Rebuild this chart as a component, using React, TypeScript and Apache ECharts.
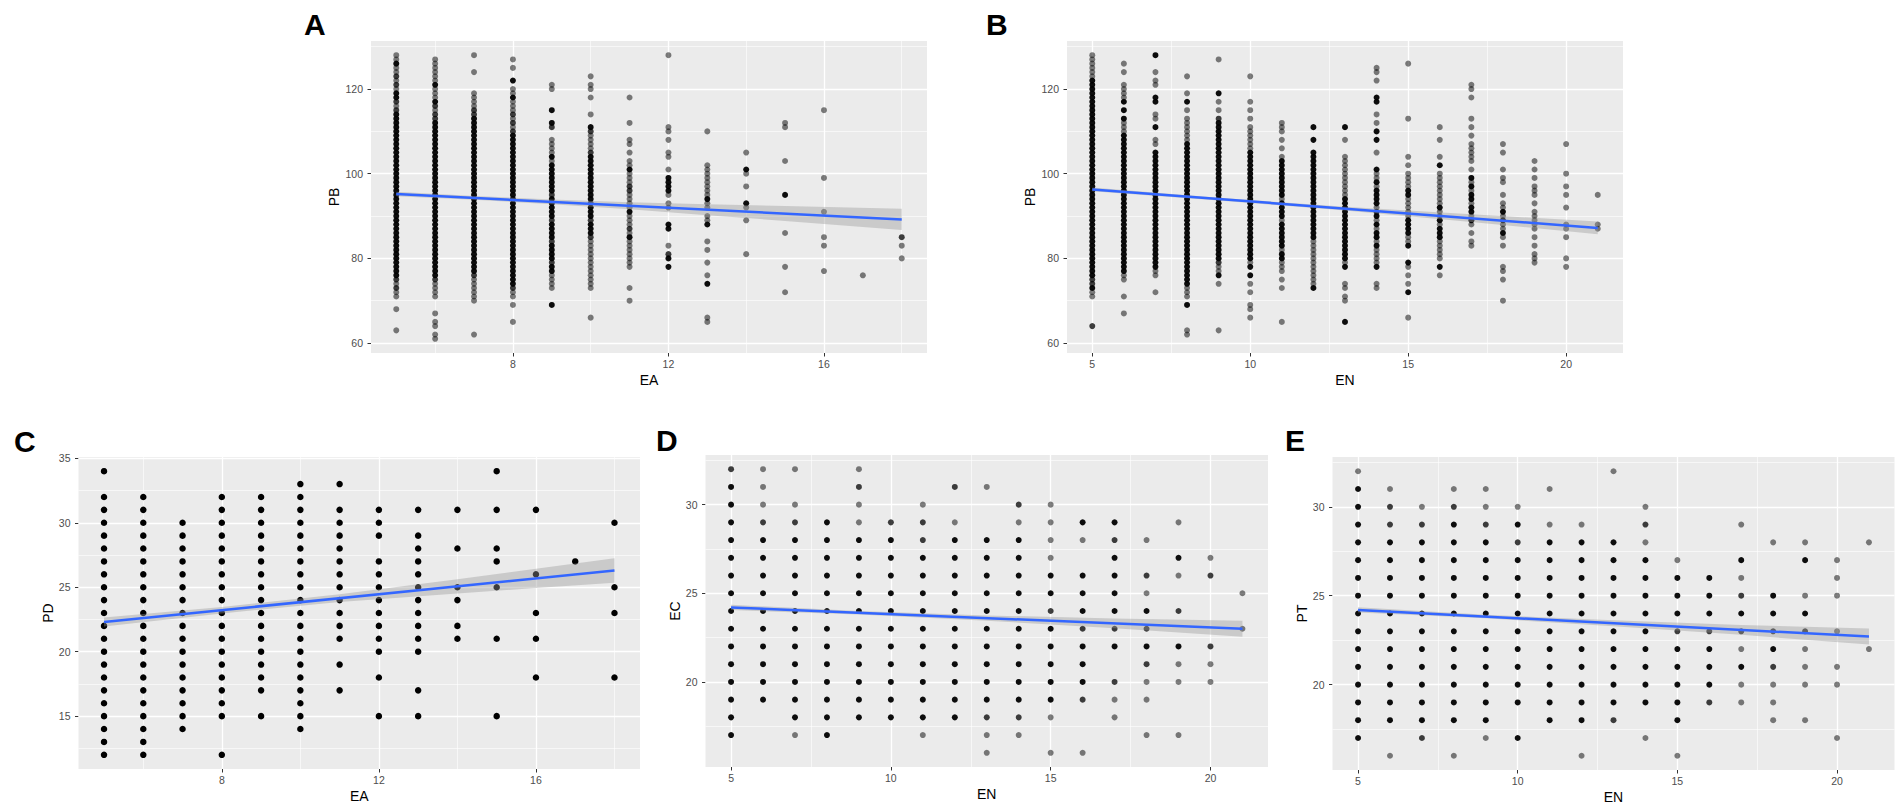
import React, { useEffect, useRef } from "react";
import * as echarts from "echarts";

const FONT = "'Liberation Sans', Arial, Helvetica, sans-serif";

// ================= Panel A : PB vs EA =================
const A_X = [5, 6, 7, 8, 9, 10, 11, 12, 13, 14, 15, 16, 17, 18];
const A_MANY: number[][] = [
  [76, 77, 78, 79, 80, 81, 82, 83, 84, 85, 86, 87, 88, 89, 90, 91, 92, 93, 94, 95, 96, 97, 98, 99, 100, 101, 102, 103, 104, 105, 106, 107, 108, 109, 110, 111, 112, 113, 114, 118, 119, 126],
  [76, 77, 78, 79, 80, 81, 82, 83, 84, 85, 86, 87, 88, 89, 90, 91, 92, 93, 94, 95, 96, 97, 98, 99, 100, 101, 102, 103, 104, 105, 106, 107, 108, 109, 110, 111, 112, 117, 121],
  [77, 78, 79, 80, 81, 82, 83, 84, 85, 86, 87, 88, 89, 90, 91, 92, 93, 94, 95, 96, 97, 98, 99, 100, 101, 102, 103, 104, 105, 106, 107, 108, 109, 110, 111, 112, 113],
  [74, 75, 76, 77, 78, 79, 80, 81, 82, 83, 84, 85, 86, 87, 88, 89, 90, 91, 92, 93, 94, 95, 96, 97, 98, 99, 100, 101, 102, 103, 104, 105, 106, 107, 108, 109, 118, 122],
  [69, 77, 78, 80, 81, 82, 83, 85, 86, 87, 88, 90, 91, 92, 93, 94, 96, 97, 98, 99, 100, 101, 102, 104, 112, 115],
  [86, 87, 88, 90, 91, 92, 94, 95, 96, 97, 98, 99, 100, 101, 102, 103, 104, 111],
  [85, 91, 101],
  [78, 80, 87, 88, 96, 97, 98, 99],
  [74, 88, 94],
  [93, 101],
  [95],
  [],
  [],
  [],
];
const A_TWO: number[][] = [
  [73, 75, 115, 117, 121, 123],
  [75, 113, 114, 116],
  [76, 114, 115],
  [73, 110, 112, 114],
  [79, 84, 89, 95, 111],
  [85, 89, 93, 105, 110],
  [87, 96, 97],
  [81],
  [],
  [],
  [],
  [],
  [],
  [85],
];
const A_ONE: number[][] = [
  [63, 68, 71, 72, 74, 116, 120, 122, 124, 125, 127, 128],
  [61, 62, 64, 65, 67, 71, 72, 73, 74, 115, 118, 119, 120, 122, 123, 124, 125, 126, 127],
  [62, 70, 71, 72, 73, 74, 75, 116, 117, 118, 119, 124, 128],
  [65, 69, 71, 72, 111, 113, 115, 116, 117, 119, 120, 125, 127],
  [73, 74, 75, 76, 103, 105, 106, 107, 108, 120, 121],
  [66, 73, 74, 75, 76, 77, 78, 79, 80, 81, 82, 83, 84, 106, 107, 108, 109, 114, 118, 120, 121, 123],
  [70, 73, 78, 79, 80, 81, 82, 83, 84, 86, 88, 89, 90, 92, 93, 94, 95, 98, 99, 100, 102, 103, 105, 107, 108, 112, 118],
  [83, 92, 93, 95, 101, 104, 105, 108, 110, 111, 128],
  [65, 66, 76, 79, 82, 84, 89, 90, 92, 93, 95, 96, 97, 98, 99, 100, 101, 102, 110],
  [81, 89, 92, 97, 100, 105],
  [72, 78, 86, 103, 111, 112],
  [77, 83, 85, 91, 99, 115],
  [76],
  [80, 83],
];
const A_LINE = [[5, 95.2], [18, 89.2]];
const A_BAND_X = [5, 7, 9, 11, 13, 15, 18];
const A_BAND_LO = [94.65, 93.85, 92.8, 91.6, 90.2, 88.85, 86.7];
const A_BAND_HI = [95.75, 94.75, 93.9, 93.25, 92.8, 92.35, 91.7];
const A_XTICKS = [8, 12, 16];
const A_YTICKS = [60, 80, 100, 120];
const A_XMINOR = [6, 10, 14, 18];
const A_YMINOR = [70, 90, 110, 130];

// ================= Panel B : PB vs EN =================
const B_X = [5, 6, 7, 8, 9, 10, 11, 12, 13, 14, 15, 16, 17, 18, 19, 20, 21];
const B_MANY: number[][] = [
  [73, 76, 77, 78, 79, 80, 81, 82, 83, 84, 85, 86, 87, 88, 89, 90, 91, 92, 93, 94, 95, 96, 97, 98, 99, 100, 101, 102, 103, 104, 105, 106, 107, 108, 109, 110, 111, 112, 113, 114, 115, 116, 117, 118, 119, 120, 121, 122],
  [77, 78, 79, 80, 81, 82, 83, 84, 85, 86, 87, 88, 89, 90, 91, 92, 93, 94, 95, 96, 97, 98, 99, 100, 101, 102, 103, 104, 105, 106, 107, 108, 109, 113, 115, 117],
  [78, 79, 80, 81, 82, 83, 84, 85, 86, 87, 88, 89, 90, 91, 92, 93, 94, 95, 96, 97, 98, 99, 100, 101, 102, 103, 104, 105, 111, 117, 118, 128],
  [69, 74, 75, 76, 77, 78, 79, 80, 81, 82, 83, 84, 85, 86, 87, 88, 89, 90, 91, 92, 93, 94, 95, 96, 97, 98, 99, 100, 101, 102, 103, 104, 105, 106, 107, 117],
  [76, 80, 81, 82, 83, 84, 85, 86, 87, 88, 89, 90, 91, 92, 93, 94, 95, 96, 97, 98, 99, 100, 101, 102, 103, 104, 105, 106, 107, 108, 109, 110, 111, 112, 119],
  [76, 78, 80, 81, 82, 83, 84, 85, 86, 87, 88, 89, 90, 91, 92, 93, 94, 95, 96, 97, 98, 99, 100, 101, 102, 103, 104, 105],
  [80, 81, 83, 84, 85, 86, 87, 88, 90, 91, 92, 93, 95, 96, 97, 98, 99, 100, 101, 102, 103],
  [73, 85, 86, 87, 88, 89, 90, 91, 92, 93, 94, 95, 96, 97, 98, 99, 100, 101, 102, 103, 104, 105, 108, 111],
  [65, 78, 80, 81, 82, 83, 84, 85, 86, 87, 88, 89, 90, 91, 92, 93, 94, 111],
  [78, 83, 85, 86, 88, 90, 91, 93, 94, 95, 96, 98, 101, 108, 110, 117, 118],
  [72, 79, 83, 86, 87, 88, 89, 95, 96],
  [78, 85, 86, 87, 89, 92, 102],
  [89, 91, 92, 94, 95, 97, 99],
  [86, 89, 91],
  [],
  [],
  [],
];
const B_TWO: number[][] = [
  [64, 74, 75], [], [], [], [79, 113], [], [], [], [], [], [], [], [], [], [], [], [],
];
const B_ONE: number[][] = [
  [71, 72, 123, 124, 125, 126, 127, 128],
  [67, 71, 75, 76, 110, 111, 112, 118, 119, 120, 121, 124, 126],
  [72, 76, 77, 107, 108, 113, 114, 121, 122, 124],
  [62, 63, 71, 72, 73, 108, 109, 110, 111, 112, 113, 115, 119, 123],
  [63, 74, 77, 78, 115, 117, 127],
  [66, 68, 69, 72, 74, 79, 106, 107, 108, 109, 110, 111, 113, 115, 117, 123],
  [65, 73, 75, 77, 78, 79, 82, 89, 94, 104, 106, 108, 110, 111, 112],
  [74, 75, 76, 77, 78, 79, 80, 81, 82, 83, 84],
  [70, 71, 73, 74, 79, 95, 96, 97, 98, 99, 100, 101, 102, 103, 104, 108],
  [73, 74, 79, 80, 81, 82, 84, 87, 89, 92, 97, 99, 100, 105, 112, 114, 122, 124, 125],
  [66, 74, 76, 78, 84, 85, 90, 91, 92, 93, 94, 97, 98, 99, 100, 102, 104, 113, 126],
  [76, 80, 81, 82, 83, 84, 88, 90, 91, 93, 94, 95, 96, 97, 98, 99, 100, 104, 108, 111],
  [83, 84, 86, 88, 90, 93, 96, 98, 101, 103, 104, 105, 106, 107, 109, 111, 113, 118, 120, 121],
  [70, 75, 77, 78, 83, 85, 87, 88, 90, 92, 93, 95, 98, 99, 101, 105, 107],
  [79, 80, 81, 83, 85, 87, 88, 89, 90, 91, 93, 95, 96, 97, 99, 101, 103],
  [78, 80, 85, 87, 88, 92, 95, 97, 100, 107],
  [87, 88, 95],
];
const B_LINE = [[5, 96.3], [21, 87.2]];
const B_BAND_X = [5, 9, 13, 17, 21];
const B_BAND_LO = [95.85, 93.7, 91.3, 88.6, 85.7];
const B_BAND_HI = [96.75, 94.3, 92.2, 90.4, 88.7];
const B_XTICKS = [5, 10, 15, 20];
const B_YTICKS = [60, 80, 100, 120];
const B_XMINOR = [7.5, 12.5, 17.5];
const B_YMINOR = [70, 90, 110, 130];

// ================= Panel C : PD vs EA =================
const C_X = [5, 6, 7, 8, 9, 10, 11, 12, 13, 14, 15, 16, 17, 18];
const C_Y: number[][] = [
  [12, 13, 14, 15, 16, 17, 18, 19, 20, 21, 22, 23, 24, 25, 26, 27, 28, 29, 30, 31, 32, 34],
  [12, 13, 14, 15, 16, 17, 18, 19, 20, 21, 22, 23, 24, 25, 26, 27, 28, 29, 30, 31, 32],
  [14, 15, 16, 17, 18, 19, 20, 21, 22, 23, 24, 25, 26, 27, 28, 29, 30],
  [12, 15, 16, 17, 18, 19, 20, 21, 22, 23, 24, 25, 26, 27, 28, 29, 30, 31, 32],
  [15, 17, 18, 19, 20, 21, 22, 23, 24, 25, 26, 27, 28, 29, 30, 31, 32],
  [14, 15, 16, 17, 18, 19, 20, 21, 22, 23, 24, 25, 26, 27, 28, 29, 30, 31, 32, 33],
  [17, 19, 21, 22, 23, 24, 25, 26, 27, 28, 29, 30, 31, 33],
  [15, 18, 20, 21, 22, 23, 24, 25, 26, 27, 29, 30, 31],
  [15, 17, 20, 21, 22, 23, 24, 25, 26, 27, 28, 29, 31],
  [21, 22, 24, 25, 28, 31],
  [15, 21, 25, 27, 28, 31, 34],
  [18, 21, 23, 26, 31],
  [27],
  [18, 23, 25, 30],
];
const C_LINE = [[5, 22.3], [18, 26.3]];
const C_BAND_X = [5, 8, 11, 14, 16, 18];
const C_BAND_LO = [21.95, 22.97, 23.85, 24.52, 24.94, 25.35];
const C_BAND_HI = [22.65, 23.47, 24.45, 25.62, 26.44, 27.25];
const C_XTICKS = [8, 12, 16];
const C_YTICKS = [15, 20, 25, 30, 35];
const C_XMINOR = [6, 10, 14, 18];
const C_YMINOR = [12.5, 17.5, 22.5, 27.5, 32.5];

// ================= Panel D : EC vs EN =================
const D_X = [5, 6, 7, 8, 9, 10, 11, 12, 13, 14, 15, 16, 17, 18, 19, 20, 21];
const D_MANY: number[][] = [
  [17, 18, 19, 20, 21, 22, 23, 24, 25, 26, 27, 28, 29, 30, 31],
  [19, 20, 21, 22, 23, 24, 25, 26, 27, 28],
  [18, 19, 20, 21, 22, 23, 24, 25, 26, 27, 28],
  [17, 18, 19, 20, 21, 22, 23, 24, 25, 26, 27, 28, 29],
  [18, 19, 20, 21, 22, 23, 24, 25, 26, 27, 28],
  [18, 19, 20, 21, 22, 23, 24, 25, 26, 27, 28],
  [18, 19, 20, 21, 22, 23, 24, 25, 26, 27],
  [18, 19, 20, 21, 22, 23, 24, 25, 26, 27, 28],
  [19, 20, 21, 22, 23, 24, 25, 26, 27, 28],
  [19, 20, 21, 22, 23, 24, 25, 26, 27, 28],
  [19, 20, 21, 22, 23, 25, 26],
  [20, 21, 22, 24, 25, 26, 29],
  [22, 24, 25, 26, 27, 29],
  [22, 24],
  [22, 27],
  [],
  [],
];
const D_TWO: number[][] = [
  [32], [29], [29], [], [31], [29], [28, 29], [31], [18], [18, 30], [24], [19, 23], [20, 23, 28], [21, 23, 26], [24], [22, 26], [],
];
const D_ONE: number[][] = [
  [], [30, 31, 32], [17, 30, 32], [], [29, 30, 32], [], [17, 30], [29], [16, 17, 31], [17, 29], [16, 18, 27, 28, 29, 30], [16, 28], [18, 19], [17, 19, 20, 25, 28], [17, 20, 21, 26, 29], [20, 21, 27], [23, 25],
];
const D_LINE = [[5, 24.2], [21, 23.0]];
const D_BAND_X = [5, 9, 13, 17, 21];
const D_BAND_LO = [24.05, 23.8, 23.45, 23.02, 22.55];
const D_BAND_HI = [24.35, 24.0, 23.75, 23.58, 23.45];
const D_XTICKS = [5, 10, 15, 20];
const D_YTICKS = [20, 25, 30];
const D_XMINOR = [7.5, 12.5, 17.5];
const D_YMINOR = [17.5, 22.5, 27.5, 32.5];

// ================= Panel E : PT vs EN =================
const E_X = [5, 6, 7, 8, 9, 10, 11, 12, 13, 14, 15, 16, 17, 18, 19, 20, 21];
const E_MANY: number[][] = [
  [17, 18, 19, 20, 21, 22, 23, 24, 25, 26, 27, 28, 29, 30, 31],
  [18, 19, 20, 21, 22, 23, 24, 25, 26, 27, 28],
  [18, 19, 20, 21, 22, 23, 24, 25, 26, 27, 28],
  [18, 19, 20, 21, 22, 23, 24, 25, 26, 27, 28, 29],
  [18, 19, 20, 21, 22, 23, 24, 25, 26, 27, 28],
  [17, 19, 20, 21, 22, 23, 24, 25, 26, 27, 29],
  [18, 19, 20, 21, 22, 23, 24, 25, 26, 27, 28],
  [18, 19, 20, 21, 22, 23, 24, 25, 26, 27, 28],
  [19, 20, 21, 22, 23, 24, 25, 26, 27, 28],
  [19, 20, 21, 22, 23, 24, 25, 26, 27],
  [18, 19, 20, 21, 22, 24, 25, 26],
  [20, 21, 22, 24, 25, 26],
  [21, 24, 27],
  [22, 24, 25],
  [24, 27],
  [],
  [],
];
const E_TWO: number[][] = [
  [], [29, 30], [17, 29], [30], [29], [28], [], [], [18], [29], [23], [19, 23], [23, 25], [21, 23], [23], [], [],
];
const E_ONE: number[][] = [
  [32], [16, 31], [30], [16, 31], [17, 30, 31], [30], [29, 31], [16, 29], [32], [17, 28, 30], [16, 27], [], [19, 20, 22, 26, 29], [18, 19, 20, 28], [18, 20, 21, 22, 25, 28], [17, 20, 21, 23, 25, 26, 27], [22, 28],
];
const E_LINE = [[5, 24.2], [21, 22.7]];
const E_BAND_X = [5, 9, 13, 17, 21];
const E_BAND_LO = [24.05, 23.73, 23.28, 22.8, 22.25];
const E_BAND_HI = [24.35, 23.93, 23.62, 23.36, 23.15];
const E_XTICKS = [5, 10, 15, 20];
const E_YTICKS = [20, 25, 30];
const E_XMINOR = [7.5, 12.5, 17.5];
const E_YMINOR = [17.5, 22.5, 27.5, 32.5];

// ---------------- layout (not data) ----------------
const PANELS = [
  {
    label: "A", lx: 304, ly: 24, grid: { left: 371, top: 41, width: 556, height: 312 },
    xName: "EA", yName: "PB", xMin: 4.35, xMax: 18.65, yMin: 57.65, yMax: 131.35, yGap: 30,
    xs: A_X, many: A_MANY, two: A_TWO, one: A_ONE, solid: false,
    line: A_LINE, bx: A_BAND_X, blo: A_BAND_LO, bhi: A_BAND_HI,
    xt: A_XTICKS, yt: A_YTICKS, xm: A_XMINOR, ym: A_YMINOR,
  },
  {
    label: "B", lx: 986, ly: 24, grid: { left: 1067, top: 41, width: 556, height: 312 },
    xName: "EN", yName: "PB", xMin: 4.2, xMax: 21.8, yMin: 57.65, yMax: 131.35, yGap: 30,
    xs: B_X, many: B_MANY, two: B_TWO, one: B_ONE, solid: false,
    line: B_LINE, bx: B_BAND_X, blo: B_BAND_LO, bhi: B_BAND_HI,
    xt: B_XTICKS, yt: B_YTICKS, xm: B_XMINOR, ym: B_YMINOR,
  },
  {
    label: "C", lx: 14, ly: 441, grid: { left: 78.5, top: 457, width: 561.5, height: 312 },
    xName: "EA", yName: "PD", xMin: 4.35, xMax: 18.65, yMin: 10.9, yMax: 35.1, yGap: 23,
    xs: C_X, many: [] as number[][], two: [] as number[][], one: C_Y, solid: true,
    line: C_LINE, bx: C_BAND_X, blo: C_BAND_LO, bhi: C_BAND_HI,
    xt: C_XTICKS, yt: C_YTICKS, xm: C_XMINOR, ym: C_YMINOR,
  },
  {
    label: "D", lx: 656, ly: 440, grid: { left: 705.5, top: 455, width: 562.5, height: 312 },
    xName: "EN", yName: "EC", xMin: 4.2, xMax: 21.8, yMin: 15.2, yMax: 32.8, yGap: 23,
    xs: D_X, many: D_MANY, two: D_TWO, one: D_ONE, solid: false,
    line: D_LINE, bx: D_BAND_X, blo: D_BAND_LO, bhi: D_BAND_HI,
    xt: D_XTICKS, yt: D_YTICKS, xm: D_XMINOR, ym: D_YMINOR,
  },
  {
    label: "E", lx: 1285, ly: 440, grid: { left: 1332.5, top: 457, width: 562, height: 313 },
    xName: "EN", yName: "PT", xMin: 4.2, xMax: 21.8, yMin: 15.2, yMax: 32.8, yGap: 23,
    xs: E_X, many: E_MANY, two: E_TWO, one: E_ONE, solid: false,
    line: E_LINE, bx: E_BAND_X, blo: E_BAND_LO, bhi: E_BAND_HI,
    xt: E_XTICKS, yt: E_YTICKS, xm: E_XMINOR, ym: E_YMINOR,
  },
];

function toPoints(xs: number[], cols: number[][]): number[][] {
  const out: number[][] = [];
  xs.forEach((x, i) => {
    (cols[i] || []).forEach((y) => out.push([x, y]));
  });
  return out;
}

function buildOption() {
  const grid: any[] = [];
  const xAxis: any[] = [];
  const yAxis: any[] = [];
  const series: any[] = [];
  const graphic: any[] = [];

  PANELS.forEach((p, gi) => {
    grid.push({
      ...p.grid,
      show: true,
      backgroundColor: "#EBEBEB",
      borderWidth: 0,
      containLabel: false,
      outerBoundsMode: "none",
    });
    const common = {
      type: "value",
      gridIndex: gi,
      nameLocation: "middle",
      nameTextStyle: { color: "#000", fontSize: 14, fontFamily: FONT },
      axisLine: { show: false },
      splitLine: { show: false },
      minorTick: { show: false },
      minorSplitLine: { show: false },
    };
    xAxis.push({
      ...common,
      min: p.xMin,
      max: p.xMax,
      name: p.xName,
      nameGap: 20,
      axisTick: { show: true, length: 3.5, inside: false, lineStyle: { color: "#333", width: 1 }, customValues: p.xt },
      axisLabel: { show: true, color: "#4D4D4D", fontSize: 10.5, fontFamily: FONT, margin: 5, customValues: p.xt, formatter: (v: number) => String(v) },
    });
    yAxis.push({
      ...common,
      min: p.yMin,
      max: p.yMax,
      name: p.yName,
      nameGap: p.yGap,
      axisTick: { show: true, length: 3.5, inside: false, lineStyle: { color: "#333", width: 1 }, customValues: p.yt },
      axisLabel: { show: true, color: "#4D4D4D", fontSize: 10.5, fontFamily: FONT, margin: 8, customValues: p.yt, formatter: (v: number) => String(v) },
    });

    const gridLines = [
      ...p.xm.map((v) => ({ xAxis: v, lineStyle: { width: 0.6 } })),
      ...p.ym.map((v) => ({ yAxis: v, lineStyle: { width: 0.6 } })),
      ...p.xt.map((v) => ({ xAxis: v, lineStyle: { width: 1.3 } })),
      ...p.yt.map((v) => ({ yAxis: v, lineStyle: { width: 1.3 } })),
    ];

    const sc = (data: number[][], opacity: number, extra: any = {}) => ({
      type: "scatter",
      xAxisIndex: gi,
      yAxisIndex: gi,
      data,
      symbol: "circle",
      symbolSize: p.solid ? 6.5 : 6,
      itemStyle: { color: "#000", opacity },
      silent: true,
      z: 2,
      ...extra,
    });

    series.push(
      sc(toPoints(p.xs, p.one), p.solid ? 1 : 0.5, {
        markLine: {
          silent: true,
          z: 1,
          symbol: ["none", "none"],
          label: { show: false },
          emphasis: { disabled: true },
          animation: false,
          lineStyle: { color: "#FFFFFF", type: "solid", opacity: 1 },
          data: gridLines,
        },
      })
    );
    series.push(sc(toPoints(p.xs, p.two), 0.75));
    series.push(sc(toPoints(p.xs, p.many), 0.95));

    const bx = p.bx, blo = p.blo, bhi = p.bhi;
    series.push({
      type: "custom",
      xAxisIndex: gi,
      yAxisIndex: gi,
      silent: true,
      z: 3,
      data: bx.map((x, i) => [x, blo[i], bhi[i]]),
      renderItem: (params: any, api: any) => {
        if (params.dataIndex !== 0) return { type: "group", children: [] };
        const top = bx.map((x, i) => api.coord([x, bhi[i]]));
        const bot = bx.map((x, i) => api.coord([x, blo[i]])).reverse();
        return {
          type: "polygon",
          shape: { points: top.concat(bot) },
          style: { fill: "rgba(153,153,153,0.4)", stroke: "none" },
        };
      },
    });
    series.push({
      type: "line",
      xAxisIndex: gi,
      yAxisIndex: gi,
      data: p.line,
      symbol: "none",
      showSymbol: false,
      silent: true,
      z: 4,
      lineStyle: { color: "#3366FF", width: 2.5 },
    });

    graphic.push({
      type: "text",
      x: p.lx,
      y: p.ly,
      silent: true,
      style: {
        text: p.label,
        fill: "#000",
        fontSize: 30,
        fontWeight: "bold",
        fontFamily: FONT,
        align: "left",
        verticalAlign: "middle",
      },
    });
  });

  return {
    animation: false,
    backgroundColor: "#FFFFFF",
    grid,
    xAxis,
    yAxis,
    series,
    graphic,
  };
}

export default function App() {
  const ref = useRef<HTMLDivElement>(null);
  useEffect(() => {
    if (!ref.current) return;
    const chart = echarts.init(ref.current, null, { renderer: "svg" });
    chart.setOption(buildOption() as any);
    return () => chart.dispose();
  }, []);
  return (
    <div
      ref={ref}
      style={{ position: "absolute", left: 0, top: 0, width: 1904, height: 808, background: "#fff" }}
    />
  );
}
